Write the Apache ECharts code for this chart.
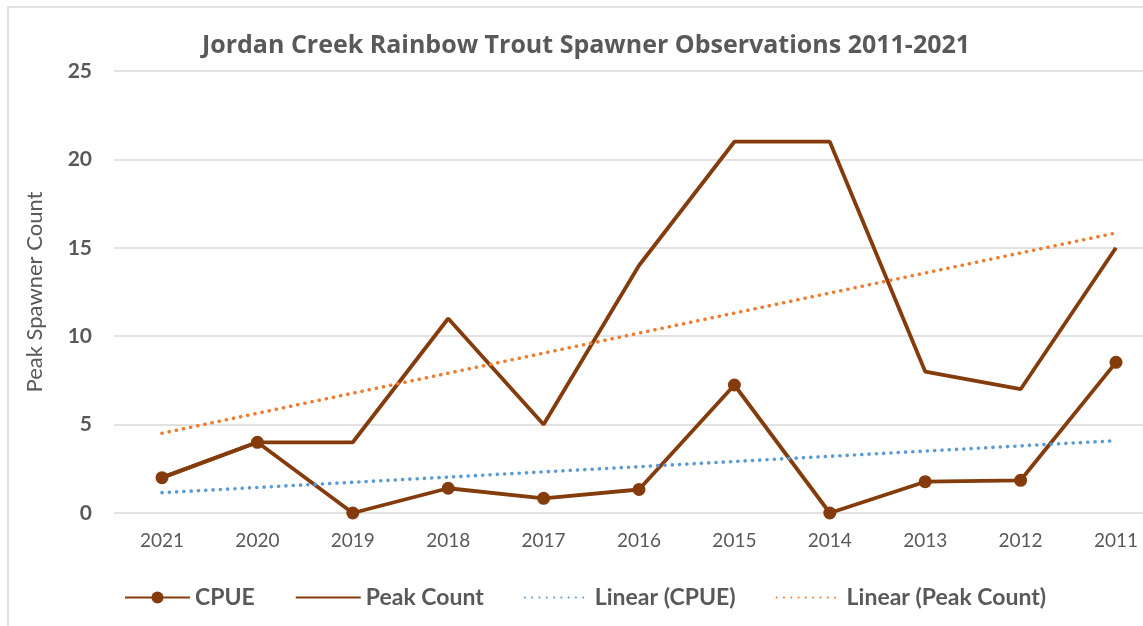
<!DOCTYPE html>
<html>
<head>
<meta charset="utf-8">
<script src="https://cdn.jsdelivr.net/npm/echarts@6/dist/echarts.min.js"></script>
<style>
  html, body { margin: 0; padding: 0; background: #fff; }
  #chart { width: 1143px; height: 626px; }
</style>
</head>
<body>
<div id="chart"></div>
<script>
// 数据
const years = ['2021', '2020', '2019', '2018', '2017', '2016', '2015', '2014', '2013', '2012', '2011']
const cpue = [2.0, 4.0, 0, 1.4, 0.83, 1.33, 7.24, 0, 1.77, 1.85, 8.52]
const peakCount = [2, 4, 4, 11, 5, 14, 21, 21, 8, 7, 15]
// trend lines (end points only)
const linearCpue = [1.15, null, null, null, null, null, null, null, null, null, 4.09]
const linearPeak = [4.51, null, null, null, null, null, null, null, null, null, 15.84]
const yTicks = [0, 5, 10, 15, 20, 25]

const colors = {
  brown: '#843C0C',
  blue: '#5B9BD5',
  orange: '#ED7D31',
  grid: '#D9D9D9',
  text: '#595959'
}
const font = 'Lato, "Open Sans", sans-serif'

const chart = echarts.init(document.getElementById('chart'))

const dotted = (color) => ({
  width: 3.6,
  color: color,
  type: [0.1, 7.2],
  cap: 'round'
})

// 两个 grid：一个画网格线和 y 轴（右边被裁掉），一个画折线
const option = {
  animation: false,
  textStyle: { fontFamily: font },
  graphic: [{
    type: 'rect',
    shape: { x: 8, y: 7, width: 1200, height: 700 },
    style: { fill: 'none', stroke: colors.grid, lineWidth: 1.5 },
    silent: true
  }],
  title: {
    text: 'Jordan Creek Rainbow Trout Spawner Observations 2011-2021',
    left: 581,
    textAlign: 'center',
    top: 28,
    textStyle: {
      fontFamily: '"Open Sans", Lato, sans-serif',
      fontSize: 25,
      fontWeight: 'bold',
      color: colors.text
    }
  },
  grid: [
    { left: 114, right: 0, top: 71, height: 442 },
    { left: 162, right: 27, top: 71, height: 442 }
  ],
  legend: {
    left: 119,
    top: 581,
    itemWidth: 65,
    itemHeight: 15,
    itemGap: 40,
    textStyle: {
      fontFamily: font,
      fontSize: 23,
      fontWeight: 'bold',
      color: colors.text
    },
    data: [
      { name: 'CPUE' },
      { name: 'Peak Count', itemStyle: { opacity: 0 } },
      { name: 'Linear (CPUE)', itemStyle: { opacity: 0 } },
      { name: 'Linear (Peak Count)', itemStyle: { opacity: 0 } }
    ]
  },
  xAxis: [
    {
      gridIndex: 0,
      type: 'category',
      data: years,
      show: false
    },
    {
      gridIndex: 1,
      type: 'category',
      data: years,
      boundaryGap: false,
      axisLine: { show: false },
      axisTick: { show: false },
      splitLine: { show: false },
      axisLabel: {
        fontFamily: font,
        fontSize: 19,
        color: colors.text,
        margin: 18
      }
    }
  ],
  yAxis: [
    {
      gridIndex: 0,
      type: 'value',
      min: yTicks[0],
      max: yTicks[yTicks.length - 1],
      interval: 5,
      name: 'Peak Spawner Count',
      nameLocation: 'middle',
      nameGap: 68,
      nameTextStyle: {
        fontFamily: font,
        fontSize: 22,
        color: colors.text
      },
      axisLine: { show: false },
      axisTick: { show: false },
      axisLabel: {
        fontFamily: font,
        fontSize: 21,
        fontWeight: 'bold',
        color: colors.text,
        margin: 22
      },
      splitLine: {
        lineStyle: { color: colors.grid, width: 1.5 }
      }
    },
    {
      gridIndex: 1,
      type: 'value',
      min: yTicks[0],
      max: yTicks[yTicks.length - 1],
      interval: 5,
      show: false,
      splitLine: { show: false }
    }
  ],
  series: [
    {
      name: 'CPUE',
      type: 'line',
      xAxisIndex: 1,
      yAxisIndex: 1,
      data: cpue,
      symbol: 'circle',
      symbolSize: 13,
      lineStyle: { width: 3.8, color: colors.brown },
      itemStyle: { color: colors.brown },
      z: 3
    },
    {
      name: 'Peak Count',
      type: 'line',
      xAxisIndex: 1,
      yAxisIndex: 1,
      data: peakCount,
      symbol: 'none',
      lineStyle: { width: 3.8, color: colors.brown },
      itemStyle: { color: colors.brown },
      z: 3
    },
    {
      name: 'Linear (CPUE)',
      type: 'line',
      xAxisIndex: 1,
      yAxisIndex: 1,
      data: linearCpue,
      connectNulls: true,
      symbol: 'none',
      lineStyle: dotted(colors.blue),
      itemStyle: { color: colors.blue },
      z: 4
    },
    {
      name: 'Linear (Peak Count)',
      type: 'line',
      xAxisIndex: 1,
      yAxisIndex: 1,
      data: linearPeak,
      connectNulls: true,
      symbol: 'none',
      lineStyle: dotted(colors.orange),
      itemStyle: { color: colors.orange },
      z: 4
    }
  ]
}

chart.setOption(option)
</script>
</body>
</html>
